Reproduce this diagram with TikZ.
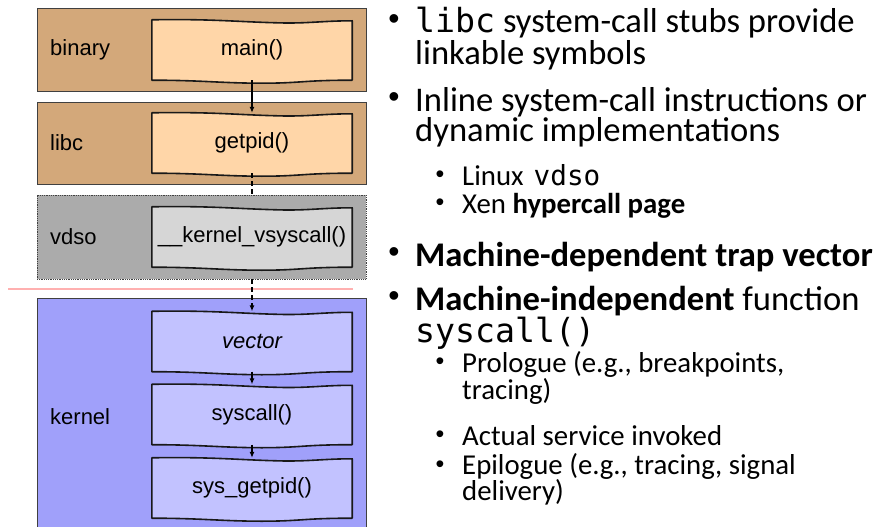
\documentclass[tikz,border=0pt]{standalone}
\usepackage{fontspec}
\setmainfont{Carlito}
\setmonofont{DejaVu Sans Mono}[Scale=0.96]
\newfontfamily\helv{Liberation Sans}
\usetikzlibrary{calc,arrows.meta}

\pgfdeclarelayer{back}
\pgfdeclarelayer{mid}
\pgfsetlayers{back,mid,main}

\definecolor{usrout}{RGB}{211,168,122}
\definecolor{usrin}{RGB}{255,214,168}
\definecolor{vdsoout}{RGB}{171,171,171}
\definecolor{vdsoin}{RGB}{214,214,214}
\definecolor{kernout}{RGB}{160,160,250}
\definecolor{kernin}{RGB}{194,194,255}
\definecolor{redline}{RGB}{255,176,176}

% Волнистая рамка вокруг узла: #1 -- узел, #2 -- заливка
\newcommand{\wavyframe}[2]{%
    \filldraw[wavy,fill=#2] (#1.north west)
        .. controls +(60,-1) and +(-40,-1) .. ($(#1.north west)+(125,3)$)
        .. controls +(30,1) and +(-30,0) .. ($(#1.north east)+(0,1)$)
        -- (#1.south east)
        .. controls +(-50,0) and +(40,0) .. ($(#1.south west)+(110,3)$)
        .. controls +(-40,0) and +(50,0) .. (#1.south west) -- cycle;
}

\begin{document}
\begin{tikzpicture}[
        x=1pt,y=-1pt
        ,layer/.style={draw=black!75,line width=0.8pt,minimum width=329pt,inner sep=0}
        ,fn/.style={font=\helv\fontsize{22}{26}\selectfont,minimum width=200pt,minimum height=60pt,inner sep=0}
        ,lbl/.style={font=\helv\fontsize{22}{26}\selectfont,anchor=west,inner sep=0}
        ,wavy/.style={draw=black!90,line width=1.6pt,line join=round}
        ,call/.style={-{Latex[length=6pt,width=5pt]},line width=1.2pt}
        ,trap/.style={line width=2.2pt,dash pattern=on 5pt off 3pt}
        ,big/.style={font=\fontsize{34.6}{40}\selectfont,anchor=base west,inner sep=0}
        ,small/.style={font=\fontsize{28.8}{34}\selectfont,anchor=base west,inner sep=0}
        ,dotbig/.style={font=\helv\fontsize{32}{34}\selectfont,inner sep=0}
        ,dotsmall/.style={font=\helv\fontsize{25}{28}\selectfont,inner sep=0}
    ]
    \useasboundingbox (0,0) rectangle (879,527);

    % Слои
    \begin{pgfonlayer}{back}
        \node[layer,fill=usrout,minimum height=83pt] (binary) at (201.5,49.5) {};
        \node[layer,fill=usrout,minimum height=82pt] (libc) at (201.5,143) {};
        \node[layer,fill=vdsoout,minimum height=84pt,densely dotted] (vdso) at (201.5,237) {};
        \node[layer,fill=kernout,minimum height=242pt] (kernel) at (201.5,419) {};
        \draw[redline,line width=2pt] (8,289) -- (353,289);
    \end{pgfonlayer}

    \node[lbl] (binlbl) at (50,50) {binary};
    \node[lbl] (libclbl) at (50,143) {libc};
    \node[lbl] (vdsolbl) at (50,237) {vdso};
    \node[lbl] (kernlbl) at (50,417) {kernel};

    % Функции
    \node[fn] (main) at (252,50) {main()};
    \node[fn] (getpid) at (252,143) {getpid()};
    \node[fn] (vsys) at (252,237) {\_\_kernel\_vsyscall()};
    \node[fn] (vector) at (252,341.5) {\itshape vector};
    \node[fn] (syscall) at (252,414.5) {syscall()};
    \node[fn] (sysgetpid) at (252,488) {sys\_getpid()};

    \begin{pgfonlayer}{mid}
        \wavyframe{main}{usrin}
        \wavyframe{getpid}{usrin}
        \wavyframe{vsys}{vdsoin}
        \wavyframe{vector}{kernin}
        \wavyframe{syscall}{kernin}
        \wavyframe{sysgetpid}{kernin}
    \end{pgfonlayer}

    % Вызовы
    \draw[call] (main.south) -- (getpid.north);
    \draw[trap] (getpid.south) -- (getpid.south |- vdso.north);
    \draw[call,trap] (vector.north |- vdso.south) -- (vector.north);
    \draw[call] (vector.south) -- (syscall.north);
    \draw[call] (syscall.south) -- (sysgetpid.north);

    % Текст справа
    \node[dotbig] (b1) at (394,22) {•};
    \node[big] (t1a) at (415,33) {\texttt{libc} system-call stubs provide};
    \node[big] (t1b) at (415,65) {linkable symbols};
    \node[dotbig] (b2) at (394,100) {•};
    \node[big] (t2a) at (415,111) {Inline system-call instructions or};
    \node[big] (t2b) at (415,142) {dynamic implementations};
    \node[dotsmall] (b21) at (440,177) {•};
    \node[small] (t21) at (462,185) {Linux\hspace{0.35em}{\ttfamily vdso}};
    \node[dotsmall] (b22) at (440,205) {•};
    \node[small] (t22) at (462,213) {Xen \textbf{hypercall page}};
    \node[dotbig] (b3) at (394,255) {•};
    \node[big] (t3) at (415,266) {\textbf{Machine-dependent trap vector}};
    \node[dotbig] (b4) at (394,299) {•};
    \node[big] (t4a) at (415,310) {\textbf{Machine-independent} function};
    \node[big] (t4b) at (415,342) {\texttt{syscall()}};
    \node[dotsmall] (b41) at (440,364) {•};
    \node[small] (t41a) at (462,372) {Prologue (e.g., breakpoints,};
    \node[small] (t41b) at (462,399) {tracing)};
    \node[dotsmall] (b42) at (440,437) {•};
    \node[small] (t42) at (462,445) {Actual service invoked};
    \node[dotsmall] (b43) at (440,467) {•};
    \node[small] (t43a) at (462,474) {Epilogue (e.g., tracing, signal};
    \node[small] (t43b) at (462,500) {delivery)};
\end{tikzpicture}
\end{document}
